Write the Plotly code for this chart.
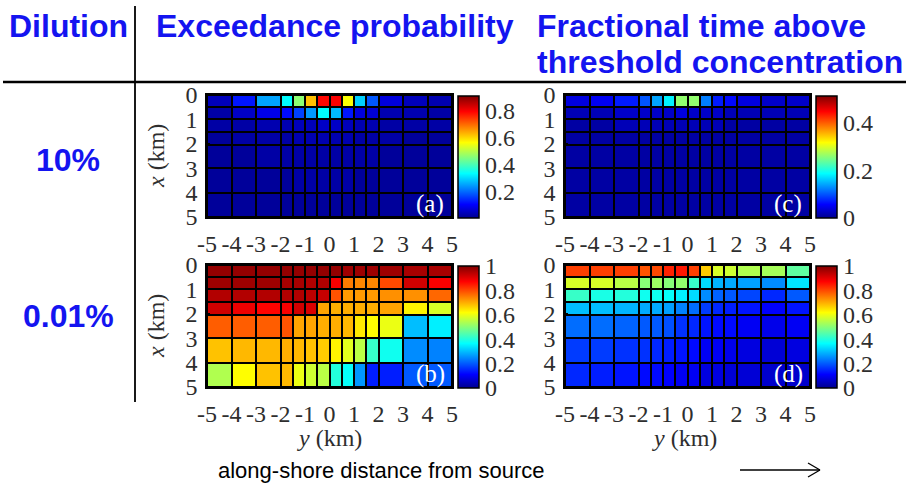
import plotly.graph_objects as go

W, H = 906, 489

# ---------------- data ----------------
y_edges = [-5, -4, -3, -2, -1.5, -1, -0.5, 0, 0.5, 1, 1.5, 2, 3, 4, 5]   # along-shore cell edges (km)
x_edges = [0, 0.5, 1, 1.5, 2.05, 3, 4, 5]                                 # cross-shore cell edges (km)
tick_vals = [-5, -4, -3, -2, -1, 0, 1, 2, 3, 4, 5]
tick_text = ["-5", "-4", "-3", "-2", "-1", "0", "1", "2", "3", "4", "5"]
x_tick_vals = [0, 1, 2, 3, 4, 5]

# (a) exceedance probability, 10% dilution
exceed_10 = [
    [0.04, 0.12, 0.25, 0.33, 0.46, 0.62, 0.79, 0.80, 0.56, 0.29, 0.18, 0.07, 0.04, 0.03],
    [0.02, 0.05, 0.08, 0.11, 0.16, 0.24, 0.33, 0.27, 0.12, 0.07, 0.06, 0.03, 0.03, 0.02],
    [0.02, 0.02, 0.03, 0.03, 0.04, 0.04, 0.05, 0.05, 0.04, 0.03, 0.03, 0.02, 0.02, 0.02],
    [0.01, 0.02, 0.02, 0.02, 0.03, 0.03, 0.03, 0.03, 0.03, 0.02, 0.02, 0.02, 0.01, 0.01],
    [0.01, 0.01, 0.02, 0.02, 0.02, 0.02, 0.02, 0.02, 0.02, 0.02, 0.02, 0.01, 0.01, 0.01],
    [0.01, 0.01, 0.01, 0.01, 0.02, 0.02, 0.02, 0.02, 0.02, 0.01, 0.01, 0.01, 0.01, 0.01],
    [0.01, 0.01, 0.01, 0.01, 0.01, 0.01, 0.01, 0.01, 0.01, 0.01, 0.01, 0.01, 0.01, 0.01],
]
# (b) exceedance probability, 0.01% dilution
exceed_001 = [
    [0.98, 0.98, 0.98, 0.98, 0.98, 0.98, 0.98, 0.98, 0.97, 0.97, 0.97, 0.97, 0.96, 0.96],
    [0.97, 0.97, 0.97, 0.96, 0.96, 0.95, 0.95, 0.88, 0.75, 0.74, 0.74, 0.80, 0.92, 0.88],
    [0.95, 0.95, 0.95, 0.95, 0.95, 0.94, 0.93, 0.79, 0.72, 0.72, 0.72, 0.73, 0.73, 0.77],
    [0.92, 0.89, 0.87, 0.88, 0.92, 0.91, 0.71, 0.70, 0.70, 0.70, 0.70, 0.71, 0.63, 0.58],
    [0.78, 0.78, 0.78, 0.79, 0.71, 0.71, 0.70, 0.70, 0.69, 0.64, 0.62, 0.60, 0.30, 0.35],
    [0.68, 0.69, 0.69, 0.70, 0.69, 0.68, 0.67, 0.63, 0.59, 0.55, 0.42, 0.38, 0.25, 0.24],
    [0.54, 0.62, 0.68, 0.69, 0.60, 0.57, 0.55, 0.40, 0.37, 0.26, 0.14, 0.14, 0.20, 0.20],
]
# (c) fractional time above threshold, 10% dilution
frac_10 = [
    [0.04, 0.05, 0.07, 0.10, 0.14, 0.18, 0.26, 0.26, 0.12, 0.07, 0.06, 0.04, 0.03, 0.03],
    [0.02, 0.02, 0.03, 0.03, 0.03, 0.03, 0.04, 0.03, 0.03, 0.03, 0.02, 0.02, 0.02, 0.02],
    [0.01, 0.01, 0.02, 0.02, 0.02, 0.02, 0.02, 0.02, 0.02, 0.02, 0.01, 0.01, 0.01, 0.01],
    [0.01, 0.01, 0.01, 0.01, 0.01, 0.01, 0.01, 0.01, 0.01, 0.01, 0.01, 0.01, 0.01, 0.01],
    [0.01, 0.01, 0.01, 0.01, 0.01, 0.01, 0.01, 0.01, 0.01, 0.01, 0.01, 0.01, 0.01, 0.01],
    [0.01, 0.01, 0.01, 0.01, 0.01, 0.01, 0.01, 0.01, 0.01, 0.01, 0.01, 0.01, 0.01, 0.01],
    [0.01, 0.01, 0.01, 0.01, 0.01, 0.01, 0.01, 0.01, 0.01, 0.01, 0.01, 0.01, 0.01, 0.01],
]
# (d) fractional time above threshold, 0.01% dilution
frac_001 = [
    [0.81, 0.81, 0.81, 0.79, 0.80, 0.84, 0.85, 0.81, 0.67, 0.58, 0.57, 0.54, 0.53, 0.46],
    [0.58, 0.58, 0.55, 0.50, 0.52, 0.50, 0.51, 0.42, 0.33, 0.29, 0.28, 0.27, 0.25, 0.34],
    [0.42, 0.39, 0.40, 0.38, 0.38, 0.37, 0.35, 0.33, 0.25, 0.21, 0.20, 0.18, 0.15, 0.20],
    [0.30, 0.30, 0.29, 0.28, 0.28, 0.27, 0.24, 0.22, 0.17, 0.15, 0.14, 0.13, 0.11, 0.13],
    [0.22, 0.22, 0.21, 0.20, 0.20, 0.19, 0.16, 0.15, 0.13, 0.12, 0.12, 0.10, 0.09, 0.10],
    [0.17, 0.17, 0.16, 0.16, 0.15, 0.14, 0.13, 0.12, 0.10, 0.10, 0.09, 0.08, 0.07, 0.08],
    [0.15, 0.14, 0.13, 0.12, 0.12, 0.11, 0.10, 0.10, 0.08, 0.08, 0.07, 0.07, 0.06, 0.06],
]

panel_letters = ["(a)", "(b)", "(c)", "(d)"]
col_titles = ["Exceedance probability", "Fractional time above", "threshold concentration"]
row_titles = ["10%", "0.01%"]

jet = [
    [0.0, "rgb(0,0,143)"], [0.111, "rgb(0,0,255)"], [0.365, "rgb(0,255,255)"],
    [0.619, "rgb(255,255,0)"], [0.873, "rgb(255,0,0)"], [1.0, "rgb(128,0,0)"],
]

def px(x):
    return x / W

def py(y):
    return 1 - y / H

SERIF = "Liberation Serif, Times New Roman, serif"
TICKC = "#2e2e2e"
BLUE = "#1414f0"

# panel boxes in pixels: (left, right, top, bottom)
boxes = {
    "a": (207, 452, 95, 217),
    "b": (207, 452, 265, 387),
    "c": (565, 810, 95, 217),
    "d": (565, 810, 265, 387),
}
cbar_x = {"a": 458, "b": 458, "c": 816, "d": 816}
ranges = {"a": (0, 0.91), "b": (0, 1), "c": (0, 0.51), "d": (0, 1)}
cticks = {
    "a": ([0.2, 0.4, 0.6, 0.8], ["0.2", "0.4", "0.6", "0.8"]),
    "b": ([0, 0.2, 0.4, 0.6, 0.8, 1], ["0", "0.2", "0.4", "0.6", "0.8", "1"]),
    "c": ([0, 0.2, 0.4], ["0", "0.2", "0.4"]),
    "d": ([0, 0.2, 0.4, 0.6, 0.8, 1], ["0", "0.2", "0.4", "0.6", "0.8", "1"]),
}
zdata = {"a": exceed_10, "b": exceed_001, "c": frac_10, "d": frac_001}

fig = go.Figure()
layout_axes = {}
for i, key in enumerate(["a", "b", "c", "d"]):
    l, r, t, b = boxes[key]
    xa = "x" if i == 0 else f"x{i+1}"
    ya = "y" if i == 0 else f"y{i+1}"
    fig.add_trace(go.Heatmap(
        z=zdata[key], x=y_edges, y=x_edges, xaxis=xa, yaxis=ya,
        colorscale=jet, zmin=ranges[key][0], zmax=ranges[key][1],
        xgap=2, ygap=2, hoverinfo="skip",
        colorbar=dict(
            x=px(cbar_x[key]), xanchor="left", xref="paper",
            y=py((t + b) / 2 + 1), yanchor="middle",
            len=b - t, lenmode="pixels", thickness=21, thicknessmode="pixels",
            outlinecolor="black", outlinewidth=1.5, xpad=0, ypad=0,
            tickvals=cticks[key][0], ticktext=cticks[key][1],
            ticks="", tickfont=dict(family=SERIF, size=24, color=TICKC),
        ),
    ))
    axis_common = dict(showline=True, mirror=True, linecolor="black", linewidth=1.5,
                       showgrid=False, zeroline=False, ticks="inside", ticklen=3,
                       tickcolor="black", tickfont=dict(family=SERIF, size=24, color=TICKC),
                       fixedrange=True, automargin=False)
    layout_axes["xaxis" if i == 0 else f"xaxis{i+1}"] = dict(
        domain=[px(l), px(r)], anchor=ya, range=[-5, 5],
        tickvals=tick_vals, ticktext=tick_text, ticklabelstandoff=4, **axis_common)
    layout_axes["yaxis" if i == 0 else f"yaxis{i+1}"] = dict(
        domain=[py(b), py(t)], anchor=xa, range=[5, 0],
        tickvals=x_tick_vals, ticklabelstandoff=3, **axis_common)

annotations = []
def ann(x, y, text, font, xanchor="center", yanchor="middle", **kw):
    annotations.append(dict(x=px(x), y=py(y), xref="paper", yref="paper", text=text,
                            showarrow=False, font=font, xanchor=xanchor, yanchor=yanchor, **kw))

# panel letters
for key, letter in zip(["a", "b", "c", "d"], panel_letters):
    l, r, t, b = boxes[key]
    ann(r - 22, b - 13, letter, dict(family=SERIF, size=25, color="white"))
# axis titles
for yc in [156, 326]:
    ann(156, yc, "<i>x</i> (km)", dict(family=SERIF, size=24, color=TICKC), textangle=-90)
for xc in [329, 684]:
    ann(xc, 438, "<i>y</i> (km)", dict(family=SERIF, size=24, color=TICKC))
# headers
HDR = dict(family="Liberation Sans, Arial, sans-serif", size=32, color=BLUE)
ann(68, 26, "<b>Dilution</b>", HDR)
ann(154, 26, "<b>" + col_titles[0] + "</b>", HDR, xanchor="left")
ann(535, 26, "<b>" + col_titles[1] + "</b>", HDR, xanchor="left")
ann(535, 62, "<b>" + col_titles[2] + "</b>", HDR, xanchor="left")
for yc, txt in zip([160, 316], row_titles):
    ann(68, yc, "<b>" + txt + "</b>", HDR)
ann(381, 470, "along-shore distance from source",
    dict(family="Liberation Sans, Arial, sans-serif", size=22, color="black"))

shapes = [
    dict(type="line", xref="paper", yref="paper", x0=px(3), x1=1, y0=py(82), y1=py(82),
         line=dict(color="black", width=2.5)),
    dict(type="line", xref="paper", yref="paper", x0=px(135), x1=px(135), y0=py(6), y1=py(402),
         line=dict(color="black", width=1.8)),
    # arrow
    dict(type="line", xref="paper", yref="paper", x0=px(740), x1=px(820), y0=py(470), y1=py(470),
         line=dict(color="black", width=1.3)),
    dict(type="line", xref="paper", yref="paper", x0=px(808), x1=px(820), y0=py(463), y1=py(470),
         line=dict(color="black", width=1.3)),
    dict(type="line", xref="paper", yref="paper", x0=px(808), x1=px(820), y0=py(477), y1=py(470),
         line=dict(color="black", width=1.3)),
]

fig.update_layout(
    width=W, height=H, margin=dict(l=0, r=0, t=0, b=0, pad=0, autoexpand=False),
    autosize=False,
    paper_bgcolor="white", plot_bgcolor="black",
    showlegend=False, annotations=annotations, shapes=shapes,
    **layout_axes,
)

fig.write_html("out.html", config={"displayModeBar": False, "responsive": False},
               post_script="document.body.style.margin='0';document.body.style.overflow='hidden';")
